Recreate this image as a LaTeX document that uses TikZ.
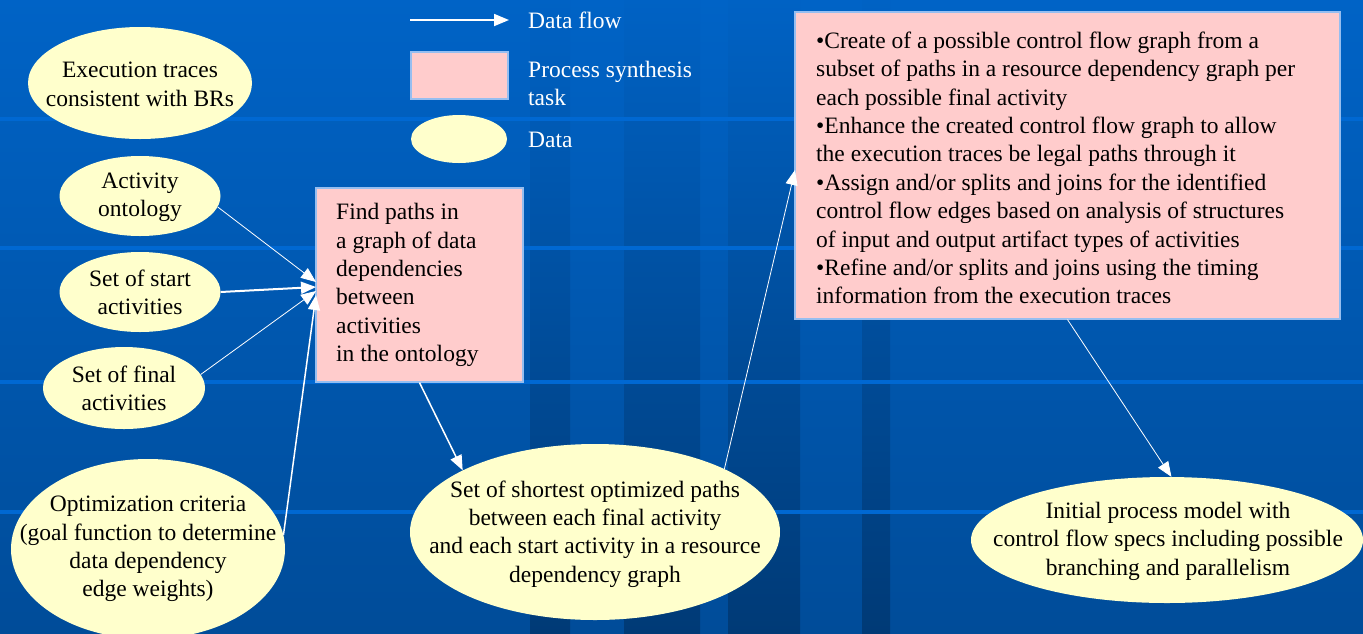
\documentclass[tikz,border=0pt]{standalone}
\usepackage{fontspec}
\setmainfont{Liberation Serif}
\usetikzlibrary{shapes.geometric,arrows.meta,calc}
\definecolor{bgtop}{RGB}{0,99,198}
\definecolor{bgbot}{RGB}{0,76,153}
\definecolor{striptop}{RGB}{0,98,196}
\definecolor{stripbot}{RGB}{0,58,118}
\definecolor{hline}{RGB}{0,104,210}
\definecolor{dataY}{RGB}{255,255,204}
\definecolor{taskP}{RGB}{255,204,204}
\definecolor{taskB}{RGB}{150,190,240}
\begin{document}
\begin{tikzpicture}[x=1pt,y=-1pt,
  font={\fontsize{23.5}{28.4}\selectfont},
  dataell/.style={ellipse, fill=dataY, inner sep=0pt},
  taskbox/.style={rectangle, fill=taskP, draw=taskB, line width=1.2pt, inner sep=0pt},
  txt/.style={align=center, text=black, inner sep=0pt},
  ltxt/.style={align=left, text=black, inner sep=0pt, anchor=west},
  wtxt/.style={align=left, text=white, inner sep=0pt, anchor=west},
  flow/.style={draw=white, -{Triangle[length=15pt,width=12pt]}, line width=1pt},
  stripe/.style={top color=striptop, bottom color=stripbot},
]
\useasboundingbox (0,0) rectangle (1363,633);
% background
\fill[top color=bgtop, bottom color=bgbot] (0,0) rectangle (1363,633);
\fill[stripe] (530,0) rectangle (570,633);
\fill[stripe] (624,0) rectangle (700,633);
\fill[stripe] (728,0) rectangle (800,633);
\fill[stripe] (862,0) rectangle (890,633);
\foreach \yy in {119,248,382,512} {
  \fill[hline] (0,\yy-2) rectangle (1363,\yy+2);
}

% legend
\coordinate (la1) at (410,20);
\coordinate (la2) at (509,20);
\draw[flow, line width=1.8pt] (la1) -- (la2);
\node[wtxt] (lflow) at (528,20) {Data flow};
\node[taskbox, minimum width=97, minimum height=47] (lbox) at (459.5,75.5) {};
\node[wtxt] (ltask) at (528,83.5) {Process synthesis\\task};
\node[dataell, minimum width=96, minimum height=48] (lell) at (459,139) {};
\node[wtxt] (ldata) at (528,140) {Data};

% data ellipses
\node[dataell, minimum width=224, minimum height=112] (exec) at (140,83) {};
\node[txt] (execT) at (140,84.5) {Execution traces\\consistent with BRs};
\node[dataell, minimum width=161, minimum height=80] (ont) at (140,196) {};
\node[txt] (ontT) at (140,197) {Activity\\ontology};
\node[dataell, minimum width=161, minimum height=80] (start) at (140,292) {};
\node[txt] (startT) at (140,292.5) {Set of start\\activities};
\node[dataell, minimum width=162, minimum height=82] (final) at (124,388) {};
\node[txt] (finalT) at (124,388.5) {Set of final\\activities};
\node[dataell, minimum width=274, minimum height=180] (opt) at (148,549) {};
\node[txt] (optT) at (148,549) {Optimization criteria\\(goal function to determine\\data dependency\\edge weights)};
\node[dataell, minimum width=370, minimum height=176] (paths) at (595,532) {};
\node[txt] (pathsT) at (595,534) {Set of shortest optimized paths\\between each final activity\\and each start activity in a resource\\dependency graph};
\node[dataell, minimum width=392, minimum height=126] (init) at (1167,540) {};
\node[txt] (initT) at (1168,541) {Initial process model with\\control flow specs including possible\\branching and parallelism};

% task boxes
\node[taskbox, minimum width=207, minimum height=194] (find) at (419.5,285) {};
\node[ltxt] (findT) at (336,285) {Find paths in\\a graph of data\\dependencies\\between\\activities\\in the ontology};
\node[taskbox, minimum width=545, minimum height=307] (cf) at (1067.5,165.5) {};
\node[ltxt] (cfT) at (816,168) {\textbullet Create of a possible control flow graph from a\\subset of paths in a resource dependency graph per\\each possible final activity\\\textbullet Enhance the created control flow graph to allow\\the execution traces be legal paths through it\\\textbullet Assign and/or splits and joins for the identified\\control flow edges based on analysis of structures\\of input and output artifact types of activities\\\textbullet Refine and/or splits and joins using the timing\\information from the execution traces};

% connectors
\coordinate (j1) at (316,282);
\coordinate (j2) at (316,287);
\coordinate (j3) at (316,291);
\coordinate (j4) at (316,295);
\coordinate (cfin) at (795,170);
\draw[flow, line width=0.8pt] (ont.-8) -- (j1);
\draw[flow, line width=2pt] (start.east) -- (j2);
\draw[flow, line width=0.8pt] (final.10) -- (j3);
\draw[flow, line width=1.5pt] (opt.6) -- (j4);
\draw[flow, line width=1.5pt] (find.south) -- (paths.155);
\draw[flow, line width=0.8pt] (paths.26) -- (cfin);
\draw[flow, line width=0.8pt] (cf.south) -- (init.86);
\end{tikzpicture}
\end{document}
